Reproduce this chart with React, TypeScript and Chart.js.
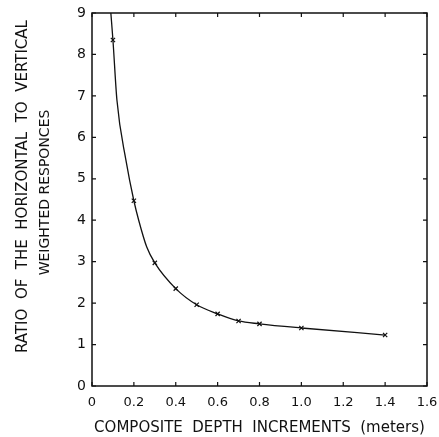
import React, { useEffect, useRef } from "react";
import { Chart, registerables } from "chart.js";

Chart.register(...registerables);

// Curve; unmarked entries are points
const depthIncrements = [0.09, 0.1, 0.119, 0.162, 0.2, 0.223, 0.261, 0.3, 0.4, 0.5, 0.6, 0.7, 0.8, 1.0, 1.4];
const ratioValues = [9.0, 8.35, 6.9, 5.45, 4.47, 4.0, 3.36, 2.97, 2.35, 1.96, 1.74, 1.57, 1.5, 1.4, 1.23];
const markedPoints = [false, true, false, false, true, false, false, true, true, true, true, true, true, true, true];

const xTickLabels = ["0", "0.2", "0.4", "0.6", "0.8", "1.0", "1.2", "1.4", "1.6"];
const yTickLabels = ["0", "1", "2", "3", "4", "5", "6", "7", "8", "9"];

const xTitle = "COMPOSITE  DEPTH  INCREMENTS  (meters)";
const yTitleLine1 = "RATIO  OF  THE  HORIZONTAL  TO  VERTICAL";
const yTitleLine2 = "WEIGHTED RESPONCES";

const FONT = "'DejaVu Sans', sans-serif";

const framePlugin = {
  id: "frameAndInnerTicks",
  afterDraw(chart: any) {
    const { ctx, chartArea: a, scales } = chart;
    const xs = scales.x;
    const ys = scales.y;
    const L = 4;
    ctx.save();
    ctx.strokeStyle = "#111";
    ctx.lineWidth = 1.5;
    ctx.strokeRect(a.left, a.top, a.right - a.left, a.bottom - a.top);
    ctx.lineWidth = 1.2;
    ctx.beginPath();
    xs.ticks.forEach((t: any) => {
      const px = xs.getPixelForValue(t.value);
      ctx.moveTo(px, a.bottom);
      ctx.lineTo(px, a.bottom - L);
      ctx.moveTo(px, a.top);
      ctx.lineTo(px, a.top + L);
    });
    ys.ticks.forEach((t: any) => {
      const py = ys.getPixelForValue(t.value);
      ctx.moveTo(a.left, py);
      ctx.lineTo(a.left + L, py);
      ctx.moveTo(a.right, py);
      ctx.lineTo(a.right - L, py);
    });
    ctx.stroke();

    // two-line y axis title
    const cy = (a.top + a.bottom) / 2;
    ctx.fillStyle = "#111";
    ctx.textAlign = "center";
    ctx.textBaseline = "middle";
    ctx.save();
    ctx.translate(23, cy - 13);
    ctx.rotate(-Math.PI / 2);
    ctx.font = `15px ${FONT}`;
    ctx.fillText(yTitleLine1, 0, 0);
    ctx.restore();
    ctx.save();
    ctx.translate(45, cy - 7);
    ctx.rotate(-Math.PI / 2);
    ctx.font = `14px ${FONT}`;
    ctx.fillText(yTitleLine2, 0, 0);
    ctx.restore();
    ctx.restore();
  },
};

export default function App() {
  const ref = useRef<HTMLCanvasElement | null>(null);

  useEffect(() => {
    if (!ref.current) return;
    const chart = new Chart(ref.current, {
      type: "line",
      data: {
        datasets: [
          {
            data: depthIncrements.map((x, i) => ({ x, y: ratioValues[i] })),
            borderColor: "#111",
            borderWidth: 1.3,
            cubicInterpolationMode: "monotone",
            pointStyle: "crossRot",
            pointRadius: (c: any) => (markedPoints[c.dataIndex] ? 3 : 0),
            pointBorderColor: "#111",
            pointBorderWidth: 1.2,
            fill: false,
            clip: 0,
          } as any,
        ],
      },
      options: {
        animation: false,
        responsive: false,
        layout: { padding: { left: 0, right: 12, top: 13, bottom: 0 } },
        plugins: { legend: { display: false }, tooltip: { enabled: false } },
        scales: {
          x: {
            type: "linear",
            min: 0,
            max: 1.6,
            grid: { display: false, drawTicks: false },
            border: { display: false },
            ticks: {
              stepSize: 0.2,
              padding: 9,
              color: "#111",
              font: { family: FONT, size: 13 },
              maxRotation: 0,
              callback: (_v: any, i: number) => xTickLabels[i],
            },
            title: {
              display: true,
              text: xTitle,
              color: "#111",
              font: { family: FONT, size: 15 },
              padding: { top: 0, bottom: 0 },
            },
            afterFit: (s: any) => {
              s.height = 51;
              s.paddingLeft = 0;
              s.paddingRight = 0;
            },
          },
          y: {
            type: "linear",
            min: 0,
            max: 9,
            grid: { display: false, drawTicks: false },
            border: { display: false },
            ticks: {
              stepSize: 1,
              padding: 6,
              color: "#111",
              font: { family: FONT, size: 14 },
              callback: (_v: any, i: number) => yTickLabels[i],
            },
            title: { display: false },
            afterFit: (s: any) => {
              s.width = 92;
              s.paddingTop = 0;
              s.paddingBottom = 0;
            },
          },
        },
      } as any,
      plugins: [framePlugin],
    });
    return () => chart.destroy();
  }, []);

  return (
    <canvas
      ref={ref}
      width={439}
      height={437}
      style={{ position: "fixed", left: 0, top: 0, width: 439, height: 437, background: "#fff" }}
    />
  );
}
